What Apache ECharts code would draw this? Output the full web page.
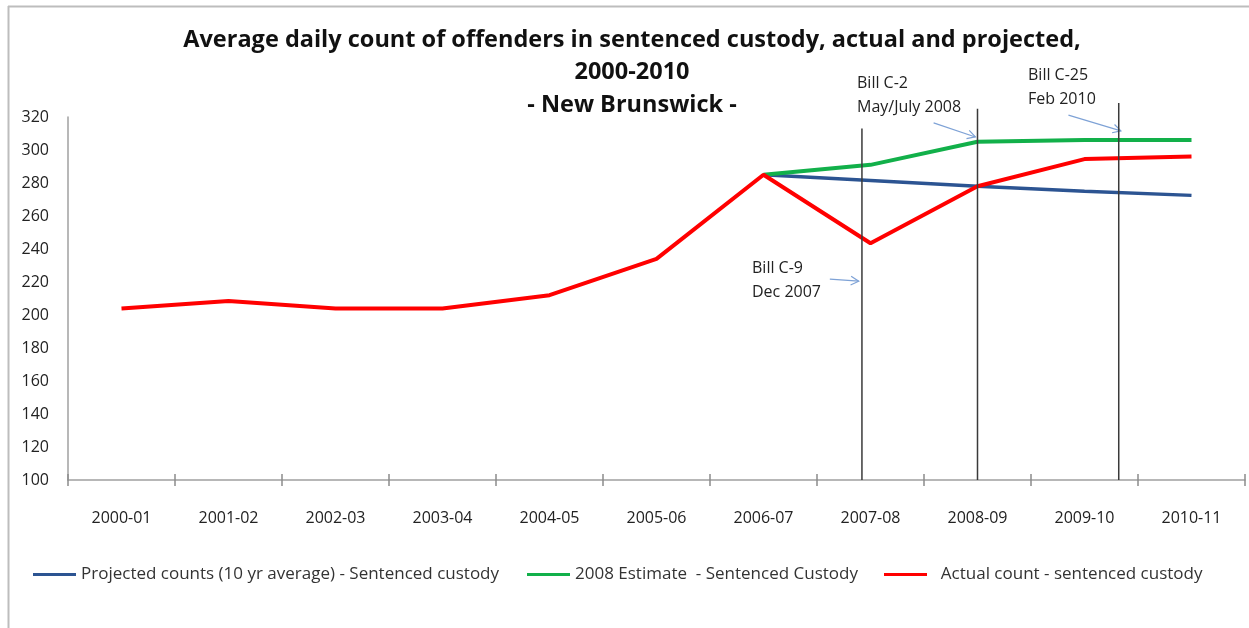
<!DOCTYPE html>
<html>
<head>
<meta charset="utf-8">
<script src="https://cdn.jsdelivr.net/npm/echarts@6/dist/echarts.min.js"></script>
<style>
  html, body { margin: 0; padding: 0; background: #fff; }
  #chart { width: 1249px; height: 628px; }
</style>
</head>
<body>
<div id="chart"></div>
<script>
// data
const years = ['2000-01', '2001-02', '2002-03', '2003-04', '2004-05', '2005-06',
               '2006-07', '2007-08', '2008-09', '2009-10', '2010-11'];
const projected = [null, null, null, null, null, null, 285, 281.5, 278, 275, 272.5];
const estimate2008 = [null, null, null, null, null, null, 285, 291, 305, 306, 306];
const actual = [204, 208.5, 204, 204, 212, 234, 285, 243.5, 278, 294.5, 296];

// bills: position on the category scale (index), top of marker line (value)
const billPos = [6.92, 8.0, 9.32];
const billTop = [313, 325, 328.5];
// arrows [fromX, fromY, toX, toY] in axis units
const billArrows = [
    [6.62, 221.7, 6.89, 220.5],
    [7.59, 316.4, 7.98, 307.9],
    [8.85, 321.1, 9.34, 311.6]
];

const names = [
    'Projected counts (10 yr average) - Sentenced custody',
    '2008 Estimate  - Sentenced Custody',
    '  Actual count - sentenced custody'
];
const font = '"Open Sans", Lato, sans-serif';

const billSeries = billPos.map(function (x, i) {
    return {
        type: 'line',
        xAxisIndex: 2,
        yAxisIndex: 0,
        data: [[x, 100], [x, billTop[i]]],
        showSymbol: false,
        clip: false,
        silent: true,
        z: 5,
        lineStyle: { color: '#3a3a3a', width: 1.5 }
    };
});

const chart = echarts.init(document.getElementById('chart'));
chart.setOption({
    backgroundColor: '#fff',
    animation: false,
    title: {
        text: 'Average daily count of offenders in sentenced custody, actual and projected,\n2000-2010\n- New Brunswick -',
        left: 632,
        top: 24,
        padding: 0,
        textAlign: 'center',
        textStyle: {
            fontFamily: font,
            fontSize: 23.5,
            fontWeight: 'bold',
            color: '#111',
            lineHeight: 32.5
        }
    },
    legend: [
        { left: 33, data: [names[0]] },
        { left: 527, data: [names[1]] },
        { left: 884, data: [names[2]] }
    ].map(function (l) {
        return Object.assign({
            top: 566,
            icon: 'rect',
            itemWidth: 43,
            itemHeight: 3,
            padding: 0,
            textStyle: { fontFamily: font, fontSize: 17, color: '#333' }
        }, l);
    }),
    grid: { left: 68, right: 4, top: 117, bottom: 148 },
    xAxis: [{
        type: 'category',
        data: years,
        boundaryGap: true,
        axisLine: { lineStyle: { color: '#a0a0a0', width: 1.5 } },
        axisTick: { show: true, interval: 0, length: 6, lineStyle: { color: '#8c8c8c', width: 1.5 } },
        axisLabel: { interval: 0, margin: 30, fontFamily: font, fontSize: 16, color: '#222' }
    }, {
        type: 'category',
        data: years,
        boundaryGap: true,
        position: 'bottom',
        axisLine: { show: false },
        axisTick: { show: true, interval: 0, inside: true, length: 6, lineStyle: { color: '#8c8c8c', width: 1.5 } },
        axisLabel: { show: false }
    }, {
        type: 'value',
        min: -0.5,
        max: 10.5,
        show: false
    }],
    yAxis: {
        type: 'value',
        min: 100,
        max: 320,
        interval: 20,
        axisLine: { show: true, onZero: false, lineStyle: { color: '#a0a0a0', width: 1.5 } },
        axisTick: { show: false },
        splitLine: { show: false },
        axisLabel: { margin: 19, fontFamily: font, fontSize: 16, color: '#222' }
    },
    series: [{
        name: names[0],
        type: 'line',
        data: projected,
        showSymbol: false,
        color: '#2c5492',
        lineStyle: { width: 3.5 }
    }, {
        name: names[1],
        type: 'line',
        data: estimate2008,
        showSymbol: false,
        color: '#12b04a',
        lineStyle: { width: 4 }
    }, {
        name: names[2],
        type: 'line',
        data: actual,
        showSymbol: false,
        color: '#ff0000',
        lineStyle: { width: 4 }
    }].concat(billSeries)
});

// annotations: frame, bill labels, arrows
const annoText = { fontFamily: font, fontSize: 16, fill: '#222', lineHeight: 24 };
const graphics = [
    { type: 'line', shape: { x1: 8, y1: 6.5, x2: 1249, y2: 6.5 }, style: { stroke: '#bdbdbd', lineWidth: 2 } },
    { type: 'line', shape: { x1: 8.5, y1: 6, x2: 8.5, y2: 628 }, style: { stroke: '#bdbdbd', lineWidth: 2 } },
    { type: 'text', left: 752, top: 256, style: Object.assign({ text: 'Bill C-9\nDec 2007' }, annoText) },
    { type: 'text', left: 857, top: 71, style: Object.assign({ text: 'Bill C-2\nMay/July 2008' }, annoText) },
    { type: 'text', left: 1028, top: 63, style: Object.assign({ text: 'Bill C-25\nFeb 2010' }, annoText) }
];
billArrows.forEach(function (a) {
    const p0 = chart.convertToPixel({ xAxisIndex: 2, yAxisIndex: 0 }, [a[0], a[1]]);
    const p1 = chart.convertToPixel({ xAxisIndex: 2, yAxisIndex: 0 }, [a[2], a[3]]);
    const ang = Math.atan2(p1[1] - p0[1], p1[0] - p0[0]);
    const h = 9, w = 0.5;
    graphics.push({
        type: 'line',
        shape: { x1: p0[0], y1: p0[1], x2: p1[0], y2: p1[1] },
        style: { stroke: '#7ea2d6', lineWidth: 1.2 }
    });
    graphics.push({
        type: 'polyline',
        shape: { points: [
            [p1[0] - h * Math.cos(ang - w), p1[1] - h * Math.sin(ang - w)],
            p1,
            [p1[0] - h * Math.cos(ang + w), p1[1] - h * Math.sin(ang + w)]
        ] },
        style: { stroke: '#7ea2d6', lineWidth: 1.2, fill: null }
    });
});
chart.setOption({ graphic: graphics });
</script>
</body>
</html>
